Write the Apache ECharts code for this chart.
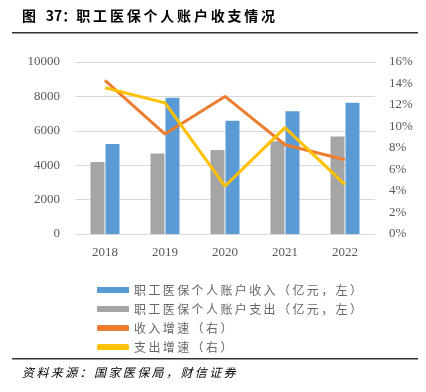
<!DOCTYPE html>
<html><head><meta charset="utf-8">
<script src="https://cdn.jsdelivr.net/npm/echarts@6/dist/echarts.min.js"></script>
<style>html,body{margin:0;padding:0;background:#fff}#c{width:426px;height:392px}</style>
</head><body><div id="c"></div>
<script>
const categories = ['2018','2019','2020','2021','2022'];
const incomeValues = [5235, 7925, 6590, 7130, 7634];
const expenseValues = [4190, 4678, 4887, 5391, 5662];
const incomeGrowth = [14.3, 9.3, 12.8, 8.3, 6.9];
const expenseGrowth = [13.6, 12.2, 4.45, 9.9, 4.6];
const leftTicks = [0, 2000, 4000, 6000, 8000, 10000];
const rightTicks = [0, 2, 4, 6, 8, 10, 12, 14, 16];

const names = ['职工医保个人账户收入（亿元，左）','职工医保个人账户支出（亿元，左）','收入增速（右）','支出增速（右）'];
const sp = s => s.split('').join('\u2009');
const chart = echarts.init(document.getElementById('c'));
const serif = '"Liberation Serif", "Times New Roman", serif';
chart.setOption({
  animation:false,
  graphic:[
    {type:'text', left:22, top:9, style:{text:'图\u2002\u200937：' + sp('职工医保个人账户收支情况'), font:'bold 14px "Noto Sans CJK SC"', fill:'#000'}},
    {type:'rect', shape:{x:12, y:32, width:406, height:1.5}, style:{fill:'#333'}},
    {type:'rect', shape:{x:12, y:358, width:406, height:1.5}, style:{fill:'#333'}},
    {type:'text', left:22, top:366, style:{text:sp('资料来源：国家医保局，财信证券'), font:'italic 12px "Noto Sans CJK SC"', fill:'#000'}}
  ],
  legend:{
    orient:'vertical', left:92, top:279, itemWidth:32, itemHeight:6, itemGap:7,
    data:[{name:names[0], icon:'rect'},{name:names[1], icon:'rect'},{name:names[2], icon:'roundRect'},{name:names[3], icon:'roundRect'}],
    formatter: n => sp(n),
    textStyle:{color:'#666', fontSize:12, fontFamily:'Noto Sans CJK SC'}
  },
  grid:{left:75, right:51, top:62, bottom:158},
  xAxis:{type:'category', data:categories, axisTick:{show:false}, axisLine:{lineStyle:{color:'#d9d9d9'}},
    axisLabel:{margin:12, color:'#595959', fontFamily:serif, fontSize:13}},
  yAxis:[
    {type:'value', min:0, max:10000, interval:2000, axisLine:{show:false}, axisTick:{show:false},
      splitLine:{lineStyle:{color:'#d9d9d9', width:1}},
      axisLabel:{margin:15, color:'#595959', fontFamily:serif, fontSize:13, formatter: v => String(v)}},
    {type:'value', min:0, max:16, interval:2, axisLine:{show:false}, axisTick:{show:false},
      splitLine:{show:false},
      axisLabel:{margin:14, color:'#595959', fontFamily:serif, fontSize:13, formatter: v => v + '%'}}
  ],
  series:[
    {name:names[1], type:'bar', data:expenseValues, barWidth:14, barGap:'7%', itemStyle:{color:'#A5A5A5'}},
    {name:names[0], type:'bar', data:incomeValues, barWidth:14, barGap:'7%', itemStyle:{color:'#5B9BD5'}},
    {name:names[2], type:'line', yAxisIndex:1, data:incomeGrowth, symbol:'none', lineStyle:{color:'#ED7D31', width:3}, itemStyle:{color:'#ED7D31'}},
    {name:names[3], type:'line', yAxisIndex:1, data:expenseGrowth, symbol:'none', lineStyle:{color:'#FFC000', width:3}, itemStyle:{color:'#FFC000'}}
  ]
});
</script></body></html>
